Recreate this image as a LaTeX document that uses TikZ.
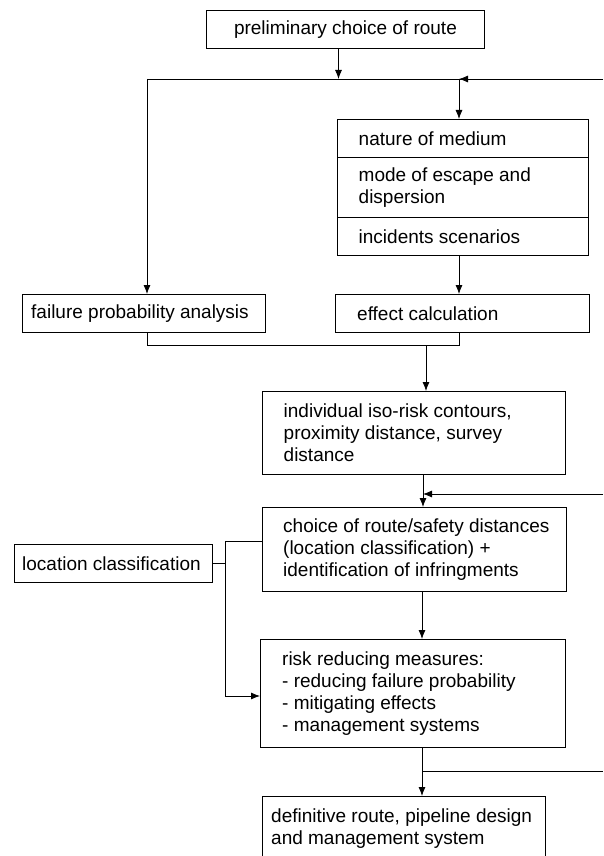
\documentclass[tikz,border=0pt]{standalone}
\usepackage{fontspec}
\setmainfont{Liberation Sans}
\usetikzlibrary{arrows.meta, positioning, calc}

\begin{document}
\begin{tikzpicture}[x=1pt, y=-1pt,
    font=\fontsize{19}{22}\selectfont,
    box/.style={draw, line width=0.9pt, inner sep=0pt, anchor=north west},
    txt/.style={inner sep=0pt, align=left, anchor=west},
    arr/.style={-{Latex[length=9pt,width=7pt]}, line width=0.8pt},
    wire/.style={line width=0.8pt}]
                \useasboundingbox (0,0) rectangle (603,856);

                % Top of the chart
                \node[box, minimum width=278, minimum height=38] (route) at (206,10) {preliminary choice of route};

                % Medium, escape and scenarios
                \node[box, minimum width=251.5, minimum height=38] (nature) at (336.5,119) {};
                \node[box, minimum width=251.5, minimum height=60] (mode) at (336.5,157) {};
                \node[box, minimum width=251.5, minimum height=38] (incid) at (336.5,217) {};
                \node[txt, right=22pt of nature.west] (nature-t) {nature of medium};
                \node[txt, right=22pt of mode.west] (mode-t) {mode of escape and\\dispersion};
                \node[txt, right=22pt of incid.west] (incid-t) {incidents scenarios};

                % Analysis
                \node[box, minimum width=243, minimum height=38] (fail) at (22,294) {};
                \node[txt, right=9pt of fail.west] (fail-t) {failure probability analysis};
                \node[box, minimum width=254, minimum height=38] (effect) at (335,294) {};
                \node[txt, right=22pt of effect.west] (effect-t) {effect calculation};

                \node[box, minimum width=303.5, minimum height=83] (iso) at (261.5,391) {};
                \node[txt, right=22pt of iso.west] (iso-t) {individual iso-risk contours,\\proximity distance, survey\\distance};

                \node[box, minimum width=304.5, minimum height=84] (choice) at (261.5,507) {};
                \node[txt, right=21.5pt of choice.west] (choice-t) {choice of route/safety distances\\(location classification) +\\identification of infringments};

                \node[box, minimum width=198, minimum height=38] (loc) at (13.5,544) {};
                \node[txt, right=8.5pt of loc.west] (loc-t) {location classification};

                \node[box, minimum width=305, minimum height=108] (risk) at (260,639) {};
                \node[txt, right=22pt of risk.west] (risk-t) {risk reducing measures:\\- reducing failure probability\\- mitigating effects\\- management systems};

                \node[box, minimum width=283, minimum height=65] (final) at (262,796) {};
                \node[txt, right=9pt of final.west] (final-t) {definitive route, pipeline design\\and management system};

                % Junction points and free ends
                \coordinate (colR) at (338.5,0);
                \coordinate (split) at (147,79);
                \coordinate (fb1) at (603,79);
                \coordinate (colA) at (459,0);
                \coordinate (join) at (147,345);
                \coordinate (colB) at (426,0);
                \coordinate (colC) at (423,0);
                \coordinate (fb2) at (603,494);
                \coordinate (busT) at (225,541);
                \coordinate (busB) at (225,696);
                \coordinate (colD) at (422,0);
                \coordinate (fb3) at (603,771);

                % Connectors
                \draw[arr] (route.south -| colR) -- (split -| colR);
                \draw[wire] (split) -- (fb1);
                \draw[arr] (fb1) -- (split -| colA);
                \draw[arr] (split -| colA) -- (nature.north -| colA);
                \draw[arr] (split) -- (fail.north -| split);
                \draw[arr] (incid.south -| colA) -- (effect.north -| colA);

                \draw[wire] (fail.south -| join) -- (join) -- (join -| colA) -- (effect.south -| colA);
                \draw[arr] (join -| colB) -- (iso.north -| colB);

                \draw[arr] (iso.south -| colC) -- (choice.north -| colC);
                \draw[arr] (fb2) -- (fb2 -| colC);

                \draw[wire] (loc.east) -- (loc.east -| busT);
                \draw[arr] (choice.west |- busT) -- (busT) -- (busB) -- (risk.west |- busB);
                \draw[arr] (choice.south -| colD) -- (risk.north -| colD);
                \draw[arr] (risk.south -| colD) -- (final.north -| colD);
                \draw[wire] (fb3 -| colD) -- (fb3);
\end{tikzpicture}
\end{document}
